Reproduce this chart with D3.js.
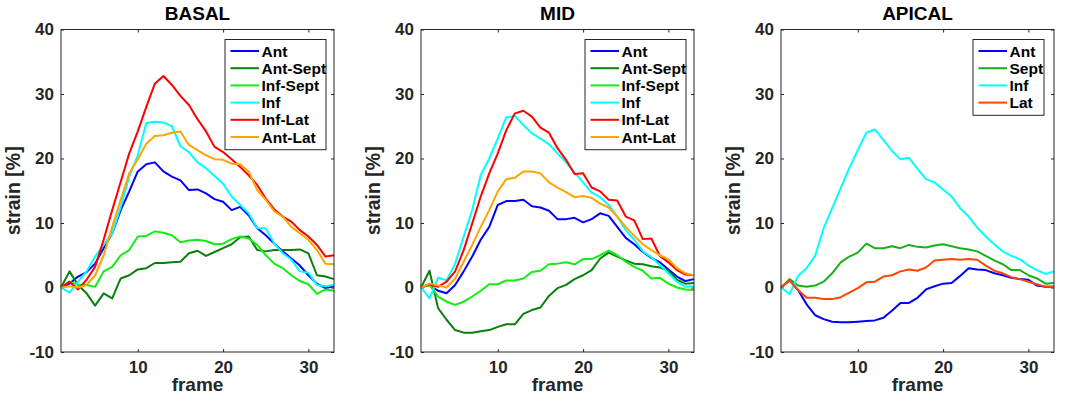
<!DOCTYPE html>
<html>
<head>
<meta charset="utf-8">
<script src="https://cdn.jsdelivr.net/npm/d3@7"></script>
<style>
  body { margin: 0; background: #fff; }
  svg { display: block; font-family: "Liberation Sans", Arial, Helvetica, sans-serif; font-weight: bold; }
</style>
</head>
<body>
<div id="chart"></div>
<script>
// frame index on the x axis
const frames = [1,2,3,4,5,6,7,8,9,10,11,12,13,14,15,16,17,18,19,20,21,22,23,24,25,26,27,28,29,30,31,32,33];
const xTicks = [10, 20, 30];
const yTicks = [-10, 0, 10, 20, 30, 40];

// BASAL
const basalAnt     = [0,0.6,1.7,2.4,3.7,6.1,8.4,12,14.9,18,19.1,19.4,18,17.2,16.6,15.1,15.2,14.6,13.7,13.3,12,12.5,11.2,9.2,8.1,6.8,5.6,4.5,3.4,1.9,0.6,-0.1,0.2];
const basalAntSept = [0,2.5,0.4,-0.9,-2.8,-0.9,-1.7,1.4,1.9,2.8,3.0,3.8,3.8,3.9,4.0,5.3,5.7,4.9,5.5,6.1,6.7,7.8,7.9,5.8,5.6,5.8,5.8,5.8,5.9,5.3,1.9,1.7,1.3];
const basalInfSept = [0,0.9,0.4,0.4,0.1,2.5,3.2,5.0,5.8,7.9,8.0,8.7,8.5,8.1,7.0,7.3,7.4,7.2,6.7,6.8,7.5,7.9,7.6,6.6,5.0,3.7,3.0,1.9,1.0,0.5,-1.0,-0.3,-0.5];
const basalInf     = [0,-0.8,0.9,2.5,4.8,6.6,8.4,12.5,17.2,20.5,25.5,25.7,25.6,25.0,21.9,21.0,19.4,18.5,17.3,16.1,14.1,12.8,11.5,9.2,9.2,6.8,5.3,4.3,2.5,2.3,0.4,0.2,0.4];
const basalInfLat  = [0,0.9,-0.3,1.2,3.2,7.4,12.0,16.4,20.8,24.2,28.0,31.6,32.8,31.4,29.7,28.3,26.1,24.2,21.8,21.0,19.9,18.7,17.4,15.9,13.8,12.1,11.0,10.2,8.9,7.9,6.6,4.8,5.0];
const basalAntLat  = [0,0.2,0,0.4,1.9,5.0,9.4,13.6,17.7,19.9,22.3,23.5,23.6,24.0,24.2,22.1,21.3,20.5,19.9,19.8,19.2,19.1,18.0,15.1,13.6,11.8,11.0,9.4,8.4,7.4,5.8,3.7,3.6];

// MID
const midAnt     = [0.1,0.4,-0.5,-0.9,0.4,2.5,4.8,7.4,9.4,12.8,13.4,13.4,13.6,12.6,12.4,11.9,10.6,10.6,10.8,10.1,10.6,11.5,11.1,9.4,7.7,6.7,5.5,4.6,3.9,2.8,1.7,1.0,1.3];
const midAntSept = [0,2.6,-3.2,-5.0,-6.6,-7.0,-7.0,-6.8,-6.6,-6.1,-5.7,-5.7,-4.1,-3.5,-3.1,-1.3,-0.1,0.4,1.3,1.9,2.7,4.5,5.4,4.8,4.2,3.7,3.6,3.3,3.1,2.6,1.2,0.6,0.7];
const midInfSept = [0,0.4,-1.4,-2.2,-2.7,-2.2,-1.4,-0.5,0.5,0.5,1.1,1.1,1.4,2.4,2.6,3.6,3.7,3.9,3.6,4.4,4.4,5.0,5.7,5.0,4.0,3.2,2.6,1.4,1.5,0.6,0,-0.3,-0.4];
const midInf     = [0,-1.7,1.5,1.1,3.7,7.9,12.0,17.4,20.0,23.1,26.4,26.6,25.2,23.9,23.1,22.2,20.8,19.4,17.8,16.3,14.7,14.0,12.8,11.0,8.9,7.4,5.6,4.7,3.5,2.2,0.9,0.1,0.2];
const midInfLat  = [0,0.5,0.1,0.9,2.5,5.8,9.9,14.1,17.7,20.8,24.4,27.0,27.4,26.5,24.8,24.0,21.6,19.8,17.6,17.7,15.5,14.9,13.6,13.5,11.0,10.4,7.5,7.6,4.9,3.9,2.7,2.0,1.9];
const midAntLat  = [0,0.6,0.3,0,1.4,4.0,6.6,9.4,12.0,14.9,16.8,17.0,18.0,18.0,17.7,16.3,15.5,14.8,14.0,14.2,13.9,13.0,12.4,11.0,9.4,8.0,6.7,5.8,5.0,4.4,3.0,2.2,1.9];

// APICAL
const apicalAnt  = [0,1.1,-0.4,-2.6,-4.3,-4.9,-5.3,-5.4,-5.4,-5.3,-5.2,-5.1,-4.7,-3.6,-2.4,-2.4,-1.6,-0.3,0.2,0.6,0.7,1.8,3.0,2.8,2.7,2.2,1.9,1.5,1.3,1.2,0.3,0.1,0.1];
const apicalSept = [0,1.3,0.3,0.1,0.3,0.9,2.2,3.9,4.8,5.4,6.8,6.1,6.1,6.4,6.1,6.6,6.3,6.2,6.5,6.7,6.4,6.1,5.9,5.6,4.9,4.2,3.6,2.7,2.7,1.9,1.4,0.6,0.7];
const apicalInf  = [0,-1.0,1.8,3.0,4.9,9.2,12.3,15.4,18.5,21.3,24.0,24.5,22.9,21.2,19.9,20.1,18.4,16.8,16.3,15.2,14.1,12.3,11.0,9.3,7.9,6.7,5.6,4.9,4.4,3.4,2.7,2.1,2.5];
const apicalLat  = [0,1.1,-0.4,-1.6,-1.6,-1.8,-1.8,-1.5,-0.8,-0.1,0.8,0.9,1.7,1.9,2.5,2.8,2.6,3.1,4.2,4.3,4.4,4.3,4.4,4.3,3.4,2.6,2.2,1.6,1.3,0.9,0.5,0.1,0.1];

const panels = [
  { title: "BASAL", series: [
    { name: "Ant", color: "#0000ff", values: basalAnt },
    { name: "Ant-Sept", color: "#0a800a", values: basalAntSept },
    { name: "Inf-Sept", color: "#11ee11", values: basalInfSept },
    { name: "Inf", color: "#00ffff", values: basalInf },
    { name: "Inf-Lat", color: "#ff0000", values: basalInfLat },
    { name: "Ant-Lat", color: "#ffa500", values: basalAntLat }
  ]},
  { title: "MID", series: [
    { name: "Ant", color: "#0000ff", values: midAnt },
    { name: "Ant-Sept", color: "#0a800a", values: midAntSept },
    { name: "Inf-Sept", color: "#11ee11", values: midInfSept },
    { name: "Inf", color: "#00ffff", values: midInf },
    { name: "Inf-Lat", color: "#ff0000", values: midInfLat },
    { name: "Ant-Lat", color: "#ffa500", values: midAntLat }
  ]},
  { title: "APICAL", series: [
    { name: "Ant", color: "#0000ff", values: apicalAnt },
    { name: "Sept", color: "#19b019", values: apicalSept },
    { name: "Inf", color: "#00ffff", values: apicalInf },
    { name: "Lat", color: "#ff4500", values: apicalLat }
  ]}
];

const W = 1070, H = 399;
const plotW = 273, plotTop = 29.5, plotBottom = 352;
const panelLeft = [61, 421, 781];
const axisColor = "#262626";

const svg = d3.select("#chart").append("svg")
  .attr("width", W).attr("height", H);
svg.append("rect").attr("width", W).attr("height", H).attr("fill", "#fff");

const x = d3.scaleLinear().domain([1, 33]).range([0, plotW]);
const y = d3.scaleLinear().domain([-10, 40]).range([plotBottom - plotTop, 0]);
const h = plotBottom - plotTop;
const fmt = d => String(d); // plain hyphen for negatives, like matlab

panels.forEach((p, pi) => {
  const g = svg.append("g").attr("transform", `translate(${panelLeft[pi]},${plotTop})`);

  // axes (ticks point inward like matlab)
  const bottom = g.append("g").attr("transform", `translate(0,${h})`)
    .call(d3.axisBottom(x).tickValues(xTicks).tickFormat(fmt).tickSizeInner(-3).tickSizeOuter(0).tickPadding(9));
  const left = g.append("g")
    .call(d3.axisLeft(y).tickValues(yTicks).tickFormat(fmt).tickSizeInner(-3).tickSizeOuter(0).tickPadding(7));
  g.append("g")
    .call(d3.axisTop(x).tickValues(xTicks).tickSizeInner(-3).tickSizeOuter(0).tickFormat(""));
  g.append("g").attr("transform", `translate(${plotW},0)`)
    .call(d3.axisRight(y).tickValues(yTicks).tickSizeInner(-3).tickSizeOuter(0).tickFormat(""));

  g.selectAll(".domain").remove();
  g.selectAll(".tick line").attr("stroke", axisColor);
  [bottom, left].forEach(a => a.selectAll("text")
    .attr("fill", axisColor)
    .style("font-size", "17px")
    .style("font-weight", "bold")
    .style("font-family", "'Liberation Sans', Arial, sans-serif"));

  // lines
  const line = d3.line().x((d, i) => x(frames[i])).y(d => y(d));
  p.series.forEach(s => {
    g.append("path")
      .datum(s.values)
      .attr("fill", "none")
      .attr("stroke", s.color)
      .attr("stroke-width", 2)
      .attr("stroke-linejoin", "round")
      .attr("d", line);
  });

  // box
  g.append("rect")
    .attr("width", plotW).attr("height", h)
    .attr("fill", "none").attr("stroke", axisColor).attr("stroke-width", 1);

  // title and labels
  g.append("text")
    .attr("x", plotW / 2).attr("y", 20 - plotTop)
    .attr("text-anchor", "middle")
    .style("font-size", "19px")
    .attr("fill", "#000")
    .text(p.title);

  g.append("text")
    .attr("x", plotW / 2).attr("y", 391 - plotTop)
    .attr("text-anchor", "middle")
    .style("font-size", "19px")
    .attr("fill", axisColor)
    .text("frame");

  g.append("text")
    .attr("transform", `translate(${-41},${h / 2}) rotate(-90)`)
    .attr("text-anchor", "middle")
    .style("font-size", "19.5px")
    .attr("fill", axisColor)
    .text("strain [%]");

  // legend
  const legW = p.series.length > 4 ? 101 : 71;
  const legX = p.series.length > 4 ? 164 : 192;
  const rowH = 17.2;
  const legH = p.series.length * rowH + 7;
  const leg = g.append("g").attr("transform", `translate(${legX},${39.5 - plotTop})`);
  leg.append("rect")
    .attr("width", legW).attr("height", legH)
    .attr("fill", "#fff").attr("stroke", axisColor).attr("stroke-width", 1);
  p.series.forEach((s, i) => {
    const cy = 11.5 + i * rowH;
    leg.append("line")
      .attr("x1", 5.5).attr("x2", 34).attr("y1", cy).attr("y2", cy)
      .attr("stroke", s.color).attr("stroke-width", 2);
    leg.append("text")
      .attr("x", 36.5).attr("y", cy).attr("dy", "0.36em")
      .style("font-size", "15.5px")
      .attr("fill", "#000")
      .text(s.name);
  });
});
</script>
</body>
</html>
